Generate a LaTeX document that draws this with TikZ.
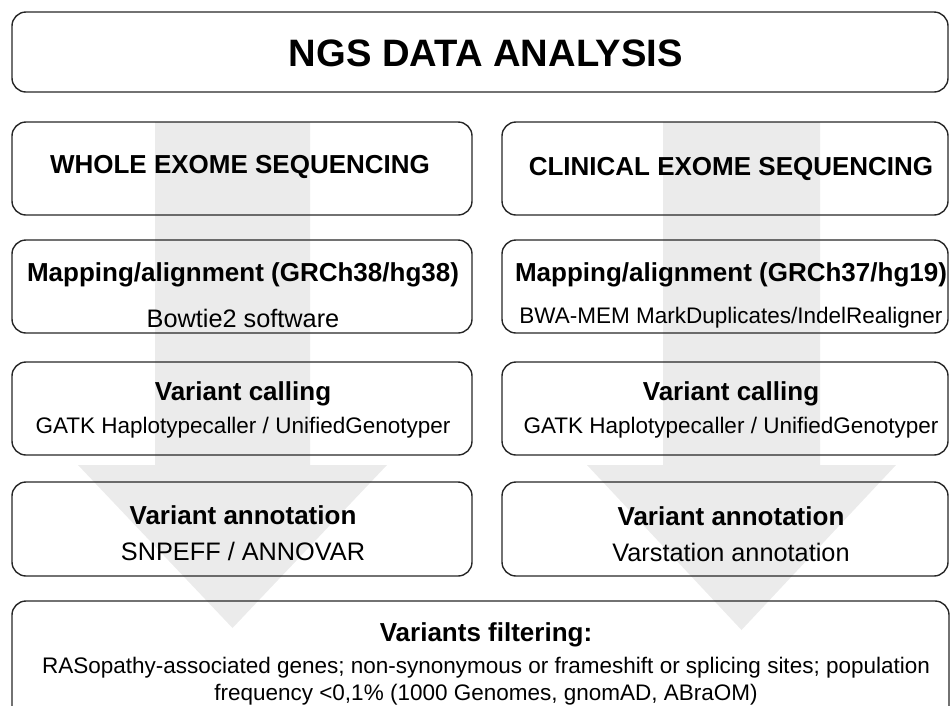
\documentclass[tikz,border=0pt]{standalone}
\usepackage{fontspec}
\setmainfont{Liberation Sans}
\tikzstyle{box} = [rectangle, rounded corners=14pt, draw=black!85, line width=1.4pt, inner sep=0pt]
\tikzstyle{title} = [font=\bfseries\fontsize{38.2}{42}\selectfont, anchor=base, inner sep=0pt]
\tikzstyle{head} = [font=\bfseries\fontsize{26}{30}\selectfont, anchor=base, inner sep=0pt]
\tikzstyle{sub} = [font=\fontsize{22.5}{27}\selectfont, anchor=base, inner sep=0pt]
\tikzstyle{bigsub} = [font=\fontsize{25.3}{30}\selectfont, anchor=base, inner sep=0pt]
\tikzstyle{flow} = [fill=black!8, draw=none]

\begin{document}
\begin{tikzpicture}[x=1pt, y=-1pt]
\useasboundingbox (0,0) rectangle (951,705);
\clip (0,0) rectangle (951,705);
% background flow arrows
\fill [flow] (155,122) -- (310,122) -- (310,465) -- (387,465) -- (232.5,628) -- (78,465) -- (155,465) -- cycle;
\fill [flow] (663,122) -- (820,122) -- (820,465) -- (896,465) -- (741.5,630) -- (587,465) -- (663,465) -- cycle;

% boxes
\node (ngs) [box, minimum width=936pt, minimum height=80pt] at (480,52) {};
\node (wes) [box, minimum width=460pt, minimum height=93pt] at (242,168.5) {};
\node (ces) [box, minimum width=446pt, minimum height=93pt] at (725,168.5) {};
\node (wesmap) [box, minimum width=460pt, minimum height=93pt] at (242,286.5) {};
\node (cesmap) [box, minimum width=446pt, minimum height=93pt] at (725,286.5) {};
\node (wescall) [box, minimum width=460pt, minimum height=93pt] at (242,408.5) {};
\node (cescall) [box, minimum width=446pt, minimum height=93pt] at (725,408.5) {};
\node (wesann) [box, minimum width=460pt, minimum height=94pt] at (242,529) {};
\node (cesann) [box, minimum width=446pt, minimum height=94pt] at (725,529) {};
\node (filter) [box, minimum width=937pt, minimum height=125pt] at (480.5,663.5) {};

% texts
\node (ngstxt) [title] at (486,66) {NGS DATA ANALYSIS};
\node (westxt) [head] at (240,173) {WHOLE EXOME SEQUENCING};
\node (cestxt) [head] at (731,175) {CLINICAL EXOME SEQUENCING};
\node (wesmaptxt) [head] at (243,281) {Mapping/alignment (GRCh38/hg38)};
\node (wesmapsub) [bigsub] at (243,327) {Bowtie2 software};
\node (cesmaptxt) [head] at (731,281) {Mapping/alignment (GRCh37/hg19)};
\node (cesmapsub) [sub] at (731,323) {BWA-MEM MarkDuplicates/IndelRealigner};
\node (wescalltxt) [head] at (243,400) {Variant calling};
\node (wescallsub) [sub] at (243,433) {GATK Haplotypecaller / UnifiedGenotyper};
\node (cescalltxt) [head] at (731,400) {Variant calling};
\node (cescallsub) [sub] at (731,433) {GATK Haplotypecaller / UnifiedGenotyper};
\node (wesanntxt) [head] at (243,524) {Variant annotation};
\node (wesannsub) [bigsub] at (243,560) {SNPEFF / ANNOVAR};
\node (cesanntxt) [head] at (731,525) {Variant annotation};
\node (cesannsub) [bigsub] at (731,561) {Varstation annotation};
\node (filtertxt) [head] at (486,641) {Variants filtering:};
\node (filterone) [sub] at (486,673) {RASopathy-associated genes; non-synonymous or frameshift or splicing sites; population};
\node (filtertwo) [sub] at (486,700) {frequency <0,1\% (1000 Genomes, gnomAD, ABraOM)};
\end{tikzpicture}
\end{document}
